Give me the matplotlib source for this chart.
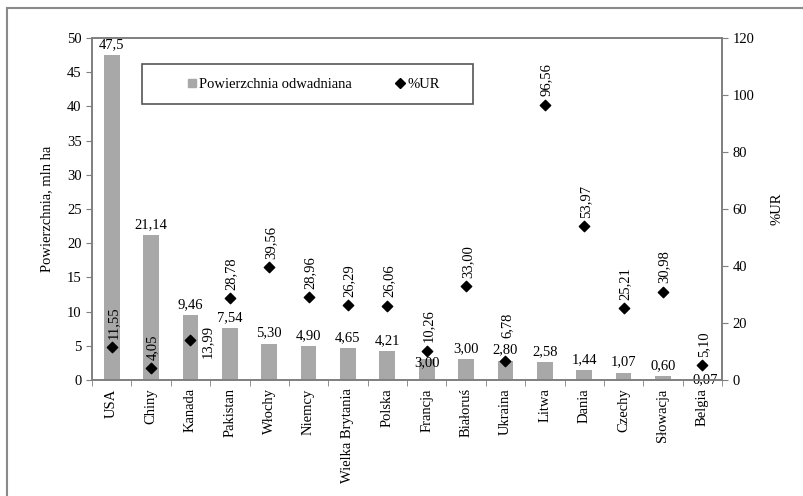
#!/usr/bin/env python3
"""
Drained area (mln ha) and share of agricultural land (%UR) by country.
"""

import numpy as np
import matplotlib
matplotlib.use('Agg')
import matplotlib.pyplot as plt
from matplotlib.lines import Line2D
from matplotlib.patches import Rectangle

countries = ['USA', 'Chiny', 'Kanada', 'Pakistan', 'Włochy', 'Niemcy',
             'Wielka Brytania', 'Polska', 'Francja', 'Białoruś', 'Ukraina',
             'Litwa', 'Dania', 'Czechy', 'Słowacja', 'Belgia']
area = [47.5, 21.14, 9.46, 7.54, 5.30, 4.90, 4.65, 4.21, 3.00, 3.00, 2.80,
        2.58, 1.44, 1.07, 0.60, 0.07]
area_labels = ['47,5', '21,14', '9,46', '7,54', '5,30', '4,90', '4,65', '4,21',
               '3,00', '3,00', '2,80', '2,58', '1,44', '1,07', '0,60', '0,07']
ur = [11.55, 4.05, 13.99, 28.78, 39.56, 28.96, 26.29, 26.06, 10.26, 33.00,
      6.78, 96.56, 53.97, 25.21, 30.98, 5.10]
ur_labels = ['11,55', '4,05', '13,99', '28,78', '39,56', '28,96', '26,29',
             '26,06', '10,26', '33,00', '6,78', '96,56', '53,97', '25,21',
             '30,98', '5,10']

plt.rcParams['font.family'] = ['Liberation Serif', 'DejaVu Serif']
plt.rcParams['font.size'] = 10.5

BAR = '#a8a8a8'
AXC = '#7f7f7f'

fig = plt.figure(figsize=(8.04, 4.96), dpi=100)
ax = fig.add_axes([92 / 804, 1 - 380 / 496, 630 / 804, 342 / 496])
ax2 = ax.twinx()

x = np.arange(len(countries))
ax.bar(x, area, width=0.4, color=BAR, zorder=2)
ax2.scatter(x, ur, marker='D', s=28, color='black', zorder=3)

ax.set_xlim(-0.5, len(countries) - 0.5)
ax.set_ylim(0, 50)
ax.set_yticks(np.arange(0, 51, 5))
ax2.set_ylim(0, 120)
ax2.set_yticks(np.arange(0, 121, 20))

ax.set_xticks(x)
ax.set_xticklabels(countries, rotation=90)
ax.set_xticks(np.arange(-0.5, len(countries)), minor=True)
ax.tick_params(axis='x', which='major', length=0, pad=6)
ax.tick_params(axis='x', which='minor', length=4, direction='out', color=AXC)
ax.tick_params(axis='y', length=4, direction='out', color=AXC)
ax2.tick_params(axis='y', length=4, direction='out', color=AXC)

for a in (ax, ax2):
    for s in a.spines.values():
        s.set_color(AXC)
        s.set_linewidth(1.2)

ax.set_ylabel('Powierzchnia, mln ha', labelpad=10)
ax2.set_ylabel('%UR', labelpad=12)

# bar value labels
for i, (v, lab) in enumerate(zip(area, area_labels)):
    if countries[i] == 'Francja':
        ax.text(i, 2.5, lab, ha='center', va='center', zorder=4)
    elif countries[i] == 'Belgia':
        ax.annotate(lab, (i, v), xytext=(2, 0), textcoords='offset points',
                    ha='center', va='center', zorder=4)
    else:
        ax.annotate(lab, (i, v), xytext=(0, 3), textcoords='offset points',
                    ha='center', va='bottom', zorder=4)

# %UR labels, rotated above the markers
for i, (v, lab) in enumerate(zip(ur, ur_labels)):
    if countries[i] == 'Kanada':
        ax2.annotate(lab, (i, v), xytext=(12, -1), textcoords='offset points',
                     ha='center', va='center', rotation=90, zorder=4)
    elif countries[i] == 'Ukraina':
        ax2.annotate(lab, (i, v), xytext=(1, 16), textcoords='offset points',
                     ha='center', va='bottom', rotation=90, zorder=4)
    else:
        ax2.annotate(lab, (i, v), xytext=(1, 6), textcoords='offset points',
                     ha='center', va='bottom', rotation=90, zorder=4)

# legend in a plain box
fig.patches.append(Rectangle((142 / 804, 1 - 104 / 496), 331 / 804, 40 / 496,
                             transform=fig.transFigure, fill=False,
                             edgecolor='#555555', linewidth=1.2))
handles = [Line2D([], [], marker='s', linestyle='none', color=BAR, markersize=6),
           Line2D([], [], marker='D', linestyle='none', color='black', markersize=5)]
fig.legend(handles, ['Powierzchnia odwadniana', '%UR'], ncol=2, frameon=False,
           loc='center', bbox_to_anchor=(313 / 804, 1 - 84 / 496),
           handletextpad=0.1, handlelength=0.8, columnspacing=2.9)

# outer frame of the picture
fig.patches.append(Rectangle((7 / 804, -0.1), 1.2, 1.1 - 8 / 496,
                             transform=fig.transFigure, fill=False,
                             edgecolor='#8a8a8a', linewidth=1.5))

fig.savefig('out.png', dpi=100)
